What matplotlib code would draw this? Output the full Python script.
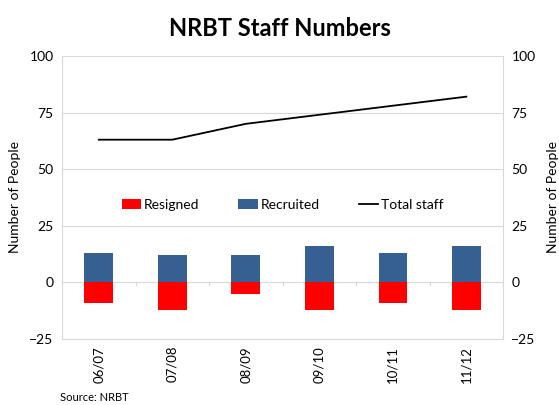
import numpy as np
import matplotlib.pyplot as plt

plt.rcParams['font.family'] = ['Lato', 'DejaVu Sans']

years = ['06/07', '07/08', '08/09', '09/10', '10/11', '11/12']
recruited = [13, 12, 12, 16, 13, 16]
resigned = [-9, -12, -5, -12, -9, -12]
total_staff = [63, 63, 70, 74, 78, 82]

fig = plt.figure(figsize=(5.59, 4.05), dpi=100)
ax = fig.add_axes([0.111, 0.163, 0.789, 0.699])

x = np.arange(len(years))
grid_col = '#d9d9d9'

for yv in [25, 50, 75, 100]:
    ax.axhline(yv, color=grid_col, lw=0.8, zorder=0)

rs = ax.bar(x, resigned, width=0.39, color='#ff0000', zorder=2)
rc = ax.bar(x, recruited, width=0.39, color='#376092', zorder=2)
ln, = ax.plot(x, total_staff, color='black', lw=1.3, zorder=3)

# category axis at zero
ax.axhline(0, color=grid_col, lw=0.8, zorder=1)
for b in np.arange(len(years) + 1) - 0.5:
    ax.plot([b, b], [0, -1.2], color=grid_col, lw=0.8, zorder=1)

ax.set_xlim(-0.5, len(years) - 0.5)
ax.set_ylim(-25, 100)
ax.set_yticks([-25, 0, 25, 50, 75, 100])
ax.set_xticks(x)
ax.set_xticklabels(years, rotation=90, fontsize=9.5)
ax.tick_params(axis='x', length=0, pad=5)
ax.tick_params(axis='y', length=0, labelsize=10, pad=6)

for s in ['top']:
    ax.spines[s].set_visible(False)
for s in ['left', 'right', 'bottom']:
    ax.spines[s].set_color(grid_col)
    ax.spines[s].set_linewidth(0.8)

ax2 = ax.twinx()
ax2.set_ylim(-25, 100)
ax2.set_yticks([-25, 0, 25, 50, 75, 100])
ax2.tick_params(axis='y', length=0, labelsize=10, pad=6)
for s in ax2.spines.values():
    s.set_visible(False)

ax.set_ylabel('Number of People', fontsize=10, labelpad=6)
ax2.set_ylabel('Number of People', fontsize=10, labelpad=8)

ax.legend([rs, rc, ln], ['Resigned', 'Recruited', 'Total staff'],
          loc='center', bbox_to_anchor=(0.5, 0.473), ncol=3, frameon=False,
          fontsize=10, handlelength=1.4, handletextpad=0.2, columnspacing=2.8)

fig.text(0.5, 0.93, 'NRBT Staff Numbers', ha='center', va='center',
         fontsize=17, fontweight='bold')
fig.text(0.107, 0.005, 'Source: NRBT', fontsize=8, ha='left', va='bottom')

fig.savefig('out.png', dpi=100)
